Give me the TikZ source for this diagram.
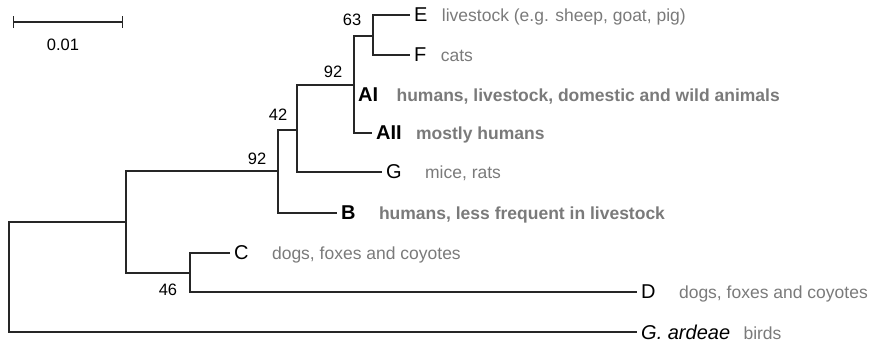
\documentclass[tikz,border=0pt]{standalone}
\usepackage{fontspec}
\setmainfont{Liberation Sans}
\usetikzlibrary{positioning,arrows.meta}

\definecolor{hostgray}{gray}{0.48}
\definecolor{linegray}{gray}{0.15}

\begin{document}
\begin{tikzpicture}[x=1pt,y=-1pt,
  branch/.style={line width=1.1pt, draw=linegray},
  clade/.style={anchor=west, inner sep=4pt, font=\fontsize{20}{22}\selectfont},
  host/.style={text=hostgray, inner sep=0pt, font=\fontsize{17.5}{20}\selectfont},
  boot/.style={inner sep=0pt, font=\fontsize{16.5}{18}\selectfont}]
\useasboundingbox (0,0) rectangle (876,343);
% scale bar
\coordinate (s0) at (13,22);
\coordinate (s1) at (123,22);
\draw[branch, {Bar[width=12pt]}-{Bar[width=12pt]}] (s0) -- (s1);
\node[boot] (scale) at (63,45) {0.01};
% internal nodes
\coordinate (root) at (9,277);
\coordinate (n1) at (126,222);
\coordinate (n2) at (278,171);
\coordinate (n3) at (297,130);
\coordinate (n4) at (354,85);
\coordinate (n5) at (373,36);
\coordinate (n6) at (190,273);
% leaves
\node[clade] (lE) at (410,15) {E};
\node[host, base right=10pt of lE] (hE) {livestock (e.g. sheep, goat, pig)};
\node[clade] (lF) at (410,55) {F};
\node[host, base right=10pt of lF] (hF) {cats};
\node[clade, font=\fontsize{20}{22}\selectfont\bfseries] (lAI) at (354,95) {AI};
\node[host, font=\fontsize{17.5}{20}\selectfont\bfseries, base right=14pt of lAI] (hAI) {humans, livestock, domestic and wild animals};
\node[clade, font=\fontsize{20}{22}\selectfont\bfseries] (lAII) at (372,133) {AII};
\node[host, font=\fontsize{17.5}{20}\selectfont\bfseries, base right=10pt of lAII] (hAII) {mostly humans};
\node[clade] (lG) at (382,172) {G};
\node[host, base right=19pt of lG] (hG) {mice, rats};
\node[clade, font=\fontsize{20}{22}\selectfont\bfseries] (lB) at (337,213) {B};
\node[host, font=\fontsize{17.5}{20}\selectfont\bfseries, base right=19pt of lB] (hB) {humans, less frequent in livestock};
\node[clade] (lC) at (230,253) {C};
\node[host, base right=19pt of lC] (hC) {dogs, foxes and coyotes};
\node[clade] (lD) at (637,292) {D};
\node[host, base right=19pt of lD] (hD) {dogs, foxes and coyotes};
\node[clade] (lGa) at (637,332) {\itshape G. ardeae};
\node[host, base right=9pt of lGa] (hGa) {birds};
% branches
\draw[branch] (n1) -| (root) |- (lGa.west);
\draw[branch] (n2) -| (n1) |- (n6);
\draw[branch] (n3) -| (n2) |- (lB.west);
\draw[branch] (n4) -| (n3) |- (lG.west);
\draw[branch] (n5) -| (n4) |- (lAII.west);
\draw[branch] (lE.west) -| (n5) |- (lF.west);
\draw[branch] (lC.west) -| (n6) |- (lD.west);
% bootstrap values
\node[boot] (b63) at (352,20) {63};
\node[boot] (b92a) at (333,72) {92};
\node[boot] (b42) at (278,115) {42};
\node[boot] (b92b) at (257,159) {92};
\node[boot] (b46) at (168,290) {46};
\end{tikzpicture}
\end{document}
